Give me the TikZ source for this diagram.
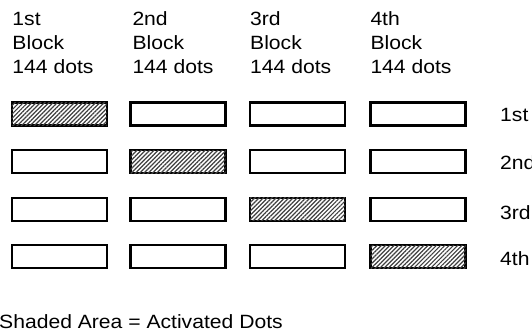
\documentclass[tikz,border=0pt]{standalone}
\usepackage{fontspec}
\setmainfont{Liberation Sans}
\usetikzlibrary{patterns.meta}
\begin{document}
\begin{tikzpicture}[x=1pt,y=-1pt,
  lbl/.style={anchor=base west,inner sep=0pt,font=\fontsize{19.2}{22}\selectfont},
  cell/.style={draw=black,line width=2.3pt,minimum width=95pt,minimum height=23pt,inner sep=0pt,fill=white},
  shaded/.style={cell,postaction={pattern={Lines[angle=45,distance=3pt,line width=1.2pt]},pattern color=black!75}}
]
\useasboundingbox (0,0) rectangle (532,334);
\newcommand{\sx}[1]{\scalebox{1.1}[1]{#1}}
% column headers
\foreach \c/\x/\o in {1/12.3/1st,2/132.3/2nd,3/250/3rd,4/370.3/4th}{
  \node[lbl] (h\c a) at (\x,26) {\sx{\o}};
  \node[lbl] (h\c b) at (\x,50) {\sx{Block}};
  \node[lbl] (h\c c) at (\x,73.3) {\sx{144 dots}};
}
% cells
\foreach \r/\y in {1/114,2/161.5,3/209.2,4/256.8}{
  \foreach \c/\x in {1/59.2,2/178,3/297.6,4/418}{
    \ifnum\r=\c
      \node[shaded] (c\r\c) at (\x,\y) {};
    \else
      \node[cell] (c\r\c) at (\x,\y) {};
    \fi
  }
}
% row labels
\node[lbl] (r1) at (500,121.7) {\sx{1st}};
\node[lbl] (r2) at (500,169.2) {\sx{2nd}};
\node[lbl] (r3) at (500,219) {\sx{3rd}};
\node[lbl] (r4) at (500,265.5) {\sx{4th}};
% legend
\node[lbl] (legend) at (-1,328.5) {\sx{Shaded Area = Activated Dots}};
\end{tikzpicture}
\end{document}
